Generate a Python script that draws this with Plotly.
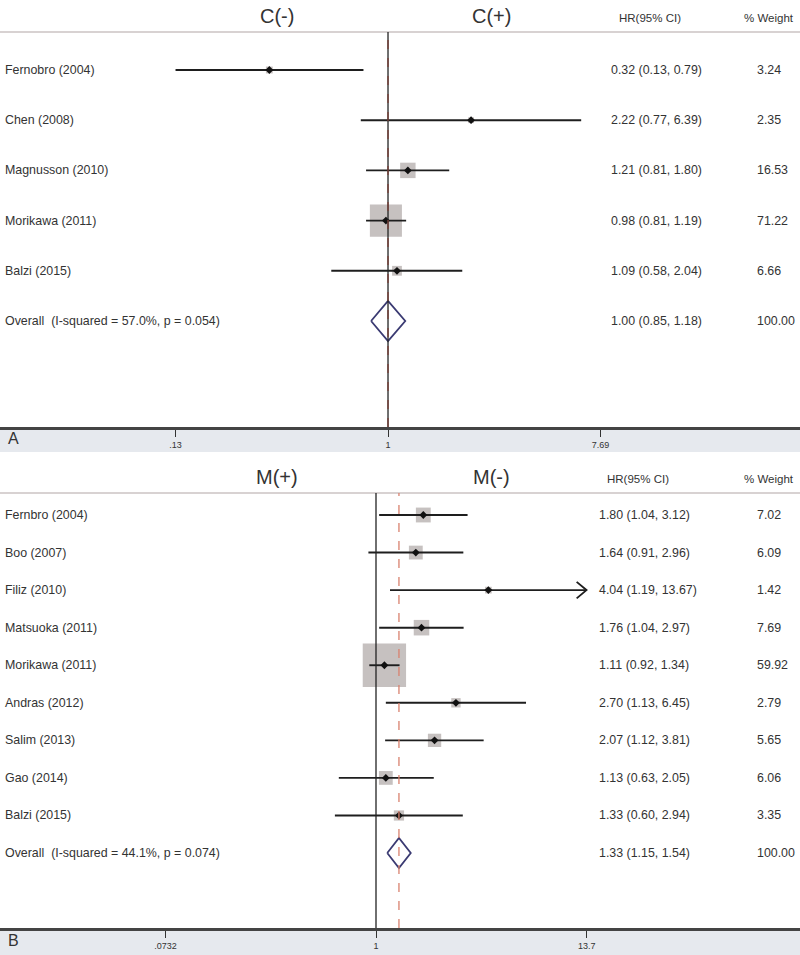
import math
import plotly.graph_objects as go

# ---------------- data ----------------
a_studies = ["Fernobro (2004)", "Chen (2008)", "Magnusson (2010)", "Morikawa (2011)", "Balzi (2015)"]
a_hr = [0.32, 2.22, 1.21, 0.98, 1.09]
a_lo = [0.13, 0.77, 0.81, 0.81, 0.58]
a_hi = [0.79, 6.39, 1.80, 1.19, 2.04]
a_wt = [3.24, 2.35, 16.53, 71.22, 6.66]
a_overall_label = "Overall  (I-squared = 57.0%, p = 0.054)"
a_overall = [1.00, 0.85, 1.18]
a_ticks = [0.13, 1, 7.69]
a_ticktext = [".13", "1", "7.69"]
a_head = ["C(-)", "C(+)"]

b_studies = ["Fernbro (2004)", "Boo (2007)", "Filiz (2010)", "Matsuoka (2011)", "Morikawa (2011)",
             "Andras (2012)", "Salim (2013)", "Gao (2014)", "Balzi (2015)"]
b_hr = [1.80, 1.64, 4.04, 1.76, 1.11, 2.70, 2.07, 1.13, 1.33]
b_lo = [1.04, 0.91, 1.19, 1.04, 0.92, 1.13, 1.12, 0.63, 0.60]
b_hi = [3.12, 2.96, 13.67, 2.97, 1.34, 6.45, 3.81, 2.05, 2.94]
b_wt = [7.02, 6.09, 1.42, 7.69, 59.92, 2.79, 5.65, 6.06, 3.35]
b_overall_label = "Overall  (I-squared = 44.1%, p = 0.074)"
b_overall = [1.33, 1.15, 1.54]
b_ticks = [0.0732, 1, 13.7]
b_ticktext = [".0732", "1", "13.7"]
b_head = ["M(+)", "M(-)"]
b_arrow = [False, False, True, False, False, False, False, False, False]

# ---------------- style ----------------
W, H = 800, 955
FONT = "Liberation Sans, Arial, sans-serif"
TXT = "#333333"
BOXC = "#aea6a5"
DIAC = "#3a3a72"
REDC = "#d9826f"
FS = 12.4

fig = go.Figure()

panels = [
    dict(studies=a_studies, hr=a_hr, lo=a_lo, hi=a_hi, wt=a_wt, ov=a_overall, ovlab=a_overall_label,
         ticks=a_ticks, ticktext=a_ticktext, head=a_head, arrow=[False]*5,
         top=32, bottom=427, band=452, first=70, step=50.2, xrange=[-1.618, 1.718],
         boxk=3.8, xa="x", ya="y", xname="xaxis", yname="yaxis", hrx=609, hhx=617, label="A",
         dashc="#7a4038"),
    dict(studies=b_studies, hr=b_hr, lo=b_lo, hi=b_hi, wt=b_wt, ov=b_overall, ovlab=b_overall_label,
         ticks=b_ticks, ticktext=b_ticktext, head=b_head, arrow=b_arrow,
         top=493, bottom=928, band=955, first=515, step=37.56, xrange=[-2.029, 2.288],
         boxk=5.6, xa="x2", ya="y2", xname="xaxis2", yname="yaxis2", hrx=597, hhx=605, label="B",
         dashc=REDC),
]

shapes = []
annotations = []

for p in panels:
    n = len(p["studies"])
    rows = list(range(1, n + 1))
    orow = n + 1
    y_top = 1 - (p["first"] - p["top"]) / p["step"]
    y_bot = orow + (p["bottom"] - (p["first"] + n * p["step"])) / p["step"]

    # grey band under axis
    shapes.append(dict(type="rect", xref="paper", yref="paper", x0=0, x1=1,
                       y0=1 - p["band"] / H, y1=1 - p["bottom"] / H,
                       fillcolor="#e6e9ee", line=dict(width=0), layer="below"))
    # header line
    shapes.append(dict(type="line", xref="paper", yref="paper", x0=0, x1=1,
                       y0=1 - p["top"] / H, y1=1 - p["top"] / H,
                       line=dict(color="#cbc3c3", width=1.5)))
    # no-effect line
    shapes.append(dict(type="line", xref=p["xa"], yref=p["ya"] + " domain", x0=1, x1=1, y0=0, y1=1,
                       line=dict(color="#222222", width=1.3)))
    # overall dashed line
    shapes.append(dict(type="line", xref=p["xa"], yref=p["ya"] + " domain", x0=p["ov"][0], x1=p["ov"][0],
                       y0=0, y1=1, line=dict(color=p["dashc"], width=1.3, dash="dash")))

    # boxes
    fig.add_trace(go.Scatter(x=p["hr"], y=rows, mode="markers", xaxis=p["xa"], yaxis=p["ya"],
                             marker=dict(symbol="square", color=BOXC,
                                         size=[p["boxk"] * math.sqrt(w) for w in p["wt"]],
                                         line=dict(width=0)),
                             hoverinfo="skip", showlegend=False))
    # CI lines
    for i in range(n):
        fig.add_trace(go.Scatter(x=[p["lo"][i], p["hi"][i]], y=[rows[i], rows[i]], mode="lines",
                                 xaxis=p["xa"], yaxis=p["ya"],
                                 line=dict(color="#1e1e1e", width=1.9),
                                 hoverinfo="skip", showlegend=False))
        if p["arrow"][i]:
            tip = p["hi"][i]
            back = tip / 1.13
            fig.add_trace(go.Scatter(x=[back, tip, back], y=[rows[i] - 0.22, rows[i], rows[i] + 0.22],
                                     mode="lines", xaxis=p["xa"], yaxis=p["ya"],
                                     line=dict(color="#1e1e1e", width=1.9),
                                     hoverinfo="skip", showlegend=False))
    # point estimates
    fig.add_trace(go.Scatter(x=p["hr"], y=rows, mode="markers", xaxis=p["xa"], yaxis=p["ya"],
                             marker=dict(symbol="diamond", color="#111111", size=6),
                             hoverinfo="skip", showlegend=False))
    # diamond
    ov = p["ov"]
    fig.add_trace(go.Scatter(x=[ov[1], ov[0], ov[2], ov[0], ov[1]],
                             y=[orow, orow - 0.4, orow, orow + 0.4, orow],
                             mode="lines", xaxis=p["xa"], yaxis=p["ya"],
                             line=dict(color=DIAC, width=1.8),
                             hoverinfo="skip", showlegend=False))

    # texts
    labels = p["studies"] + [p["ovlab"]]
    hrs = [f"{h:.2f} ({l:.2f}, {u:.2f})" for h, l, u in zip(p["hr"], p["lo"], p["hi"])] + \
          [f"{ov[0]:.2f} ({ov[1]:.2f}, {ov[2]:.2f})"]
    wts = [f"{w:.2f}" for w in p["wt"]] + ["100.00"]
    for r, lab, hs, ws in zip(rows + [orow], labels, hrs, wts):
        annotations.append(dict(xref="paper", yref=p["ya"], x=3 / W, y=r, text=lab, showarrow=False,
                                xanchor="left", yanchor="middle", font=dict(family=FONT, size=FS, color=TXT)))
        annotations.append(dict(xref="paper", yref=p["ya"], x=p["hrx"] / W, y=r, text=hs, showarrow=False,
                                xanchor="left", yanchor="middle", font=dict(family=FONT, size=FS, color=TXT)))
        annotations.append(dict(xref="paper", yref=p["ya"], x=755 / W, y=r, text=ws, showarrow=False,
                                xanchor="left", yanchor="middle", font=dict(family=FONT, size=FS, color=TXT)))
    # headers
    hy = 1 - (p["top"] - 16) / H
    annotations.append(dict(xref="paper", yref="paper", x=277 / W, y=hy, text=p["head"][0], showarrow=False,
                            xanchor="center", yanchor="middle", font=dict(family=FONT, size=20, color=TXT)))
    annotations.append(dict(xref="paper", yref="paper", x=491 / W, y=hy, text=p["head"][1], showarrow=False,
                            xanchor="center", yanchor="middle", font=dict(family=FONT, size=20, color=TXT)))
    annotations.append(dict(xref="paper", yref="paper", x=p["hhx"] / W, y=hy - 0.002, text="HR(95% CI)",
                            showarrow=False, xanchor="left", yanchor="middle",
                            font=dict(family=FONT, size=11.5, color=TXT)))
    annotations.append(dict(xref="paper", yref="paper", x=742 / W, y=hy - 0.002, text="% Weight",
                            showarrow=False, xanchor="left", yanchor="middle",
                            font=dict(family=FONT, size=11.5, color=TXT)))
    # panel letter
    annotations.append(dict(xref="paper", yref="paper", x=6 / W, y=1 - (p["bottom"] + 12) / H, text=p["label"],
                            showarrow=False, xanchor="left", yanchor="middle",
                            font=dict(family=FONT, size=16, color=TXT)))

    fig.layout[p["xname"]] = dict(type="log", range=p["xrange"], domain=[0, 1], anchor=p["ya"],
                                  tickvals=p["ticks"], ticktext=p["ticktext"], ticks="outside",
                                  ticklen=7, tickwidth=1.2, tickcolor="#333",
                                  tickfont=dict(family=FONT, size=9, color=TXT),
                                  showline=True, linecolor="#444", linewidth=2.5,
                                  showgrid=False, zeroline=False, fixedrange=True)
    fig.layout[p["yname"]] = dict(range=[y_bot, y_top], domain=[1 - p["bottom"] / H, 1 - p["top"] / H],
                                  anchor=p["xa"], visible=False, showgrid=False, zeroline=False,
                                  fixedrange=True)

fig.update_layout(width=W, height=H, autosize=False, margin=dict(l=0, r=0, t=0, b=0),
                  paper_bgcolor="white", plot_bgcolor="rgba(0,0,0,0)",
                  shapes=shapes, annotations=annotations, showlegend=False)

fig.write_html("out.html", config={"displayModeBar": False},
               post_script="document.body.style.margin='0';document.body.style.overflow='hidden';")
